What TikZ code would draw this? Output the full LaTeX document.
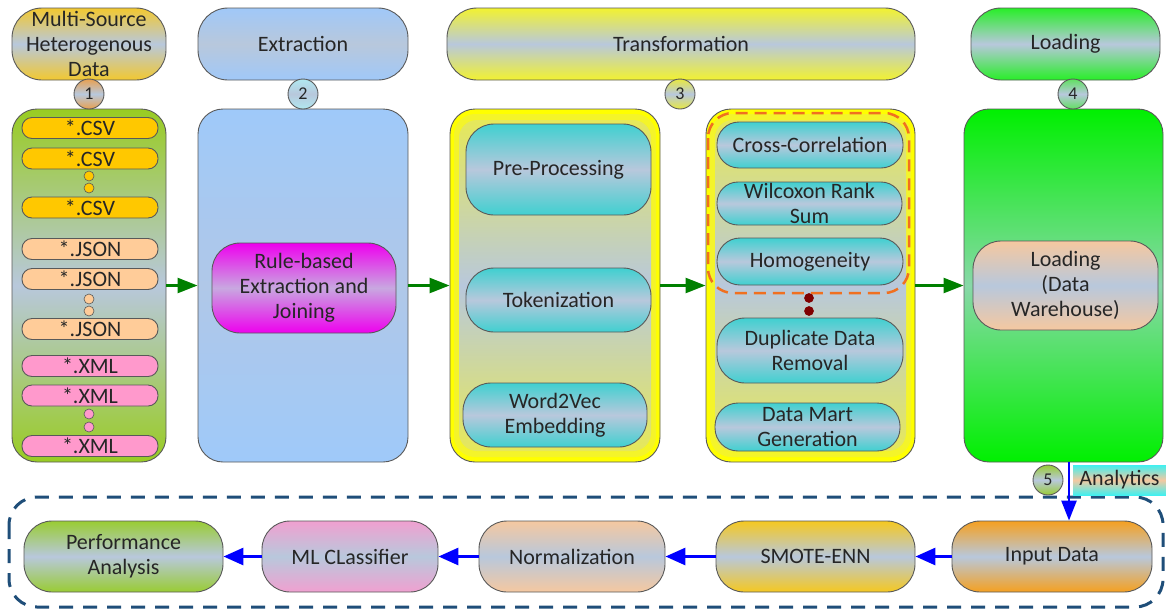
\documentclass[tikz,border=0pt]{standalone}
\usepackage{fontspec}
\setmainfont{Carlito}
\usetikzlibrary{arrows.meta}
\definecolor{txt}{HTML}{262626}
\definecolor{midc}{HTML}{B8C8DC}
\definecolor{csvc}{HTML}{FFC800}
\definecolor{jsonc}{HTML}{FFCC99}
\definecolor{xmlc}{HTML}{FF99CC}
\definecolor{h1c}{HTML}{F2C830}
\definecolor{h2c}{HTML}{A0C8F8}
\definecolor{h3c}{HTML}{F2F230}
\definecolor{h4c}{HTML}{28EE28}
\definecolor{p1c}{HTML}{99CC22}
\definecolor{p2c}{HTML}{9FC9F9}
\definecolor{p2m}{HTML}{B0C8E8}
\definecolor{yel}{HTML}{FFFF00}
\definecolor{yin}{HTML}{E6E85A}
\definecolor{yband}{HTML}{F4F42A}
\definecolor{p5c}{HTML}{00F000}
\definecolor{p5m}{HTML}{88D8A8}
\definecolor{magc}{HTML}{EE00EE}
\definecolor{magm}{HTML}{C8A8E0}
\definecolor{cyc}{HTML}{40D0D0}
\definecolor{peach}{HTML}{F5C8A0}
\definecolor{perfc}{HTML}{99CC33}
\definecolor{mlc}{HTML}{F0A0D0}
\definecolor{smc}{HTML}{F5C820}
\definecolor{inc}{HTML}{F5A020}
\definecolor{c1c}{HTML}{E8A050}
\definecolor{c2c}{HTML}{B0E8F0}
\definecolor{c3c}{HTML}{E8E840}
\definecolor{c4c}{HTML}{60E060}
\definecolor{c5c}{HTML}{99CC33}
\definecolor{dred}{HTML}{800000}
\definecolor{dor}{HTML}{F07020}
\definecolor{frm}{HTML}{1F4E79}
\definecolor{arrg}{HTML}{008000}
\definecolor{cyl}{HTML}{40F0F0}
\tikzset{
 base/.style={draw=black!65, line width=0.9pt, align=center, text=txt, font=\fontsize{22}{25}\selectfont, inner sep=0pt},
 gr/.style={top color=#1, bottom color=#1, middle color=midc},
 sz/.style 2 args={minimum width=#1pt, minimum height=#2pt},
 pill/.style={base, rounded corners=10pt},
 dotn/.style={base, circle, minimum size=10pt, line width=0.6pt},
 numc/.style={base, circle, minimum size=30pt, font=\fontsize{18}{20}\selectfont},
 lbl/.style={align=center, text=txt, font=\fontsize{22}{25}\selectfont, inner sep=0pt},
 inner/.style={rounded corners=18pt, top color=yin, bottom color=yin, middle color=midc, inner sep=0pt},
 band/.style={rounded corners=21pt, fill=yband, inner sep=0pt},
 garrow/.style={draw=arrg, line width=2.5pt, -{Triangle[length=20pt,width=15pt]}},
 barrow/.style={draw=blue, line width=3pt, -{Triangle[length=20pt,width=17pt]}},
}
\begin{document}
\begin{tikzpicture}[x=1pt,y=-1pt]
\useasboundingbox (0,0) rectangle (1166,611);
% headers
\node[base, rounded corners=30pt, gr=h1c, sz={154}{72}] (h1) at (89,44) {Multi-Source\\Heterogenous\\Data};
\node[base, rounded corners=30pt, gr=h2c, sz={210}{72}] (h2) at (303,44) {Extraction};
\node[base, rounded corners=30pt, gr=h3c, sz={468}{72}] (h3) at (681,44) {Transformation};
\node[base, rounded corners=30pt, gr=h4c, sz={189}{72}] (h4) at (1065.5,44) {Loading};
% panels
\node[base, rounded corners=25pt, top color=p1c, bottom color=p1c, middle color=midc, sz={154}{353}] (p1) at (89,285.5) {};
\node[base, rounded corners=25pt, top color=p2c, bottom color=p2c, middle color=p2m, sz={210}{353}] (p2) at (303,285.5) {};
\node[base, rounded corners=25pt, fill=yel, sz={210}{353}] (p3) at (555,285.5) {};
\node[band, minimum width=202pt, minimum height=343pt] (p3b) at (555,285.5) {};
\node[inner, minimum width=192pt, minimum height=331pt] (p3in) at (555,285.5) {};
\node[base, rounded corners=25pt, fill=yel, sz={209}{353}] (p4) at (810.5,285.5) {};
\node[band, minimum width=201pt, minimum height=343pt] (p4b) at (810.5,285.5) {};
\node[inner, minimum width=191pt, minimum height=331pt] (p4in) at (810.5,285.5) {};
\node[base, rounded corners=25pt, top color=p5c, bottom color=p5c, middle color=p5m, sz={199}{353}] (p5) at (1063.5,285.5) {};
% number circles
\node[numc, gr=c1c] (n1) at (89,94) {1};
\node[numc, gr=c2c] (n2) at (303,94) {2};
\node[numc, gr=c3c] (n3) at (680,94) {3};
\node[numc, gr=c4c] (n4) at (1073,94) {4};
% files
\node[pill, fill=csvc, sz={136}{21}] (csv1) at (90,128) {*.CSV};
\node[pill, fill=csvc, sz={136}{21}] (csv2) at (90,158.5) {*.CSV};
\node[dotn, fill=csvc] (dc1) at (89,176) {};
\node[dotn, fill=csvc] (dc2) at (89,188) {};
\node[pill, fill=csvc, sz={136}{21}] (csv3) at (90,207.5) {*.CSV};
\node[pill, fill=jsonc, sz={136}{21}] (js1) at (90,249) {*.JSON};
\node[pill, fill=jsonc, sz={136}{21}] (js2) at (90,279) {*.JSON};
\node[dotn, fill=jsonc] (dj1) at (89,299) {};
\node[dotn, fill=jsonc] (dj2) at (89,311) {};
\node[pill, fill=jsonc, sz={136}{21}] (js3) at (90,329) {*.JSON};
\node[pill, fill=xmlc, sz={136}{21}] (xm1) at (90,366) {*.XML};
\node[pill, fill=xmlc, sz={136}{21}] (xm2) at (90,395.5) {*.XML};
\node[dotn, fill=xmlc] (dx1) at (89,414) {};
\node[dotn, fill=xmlc] (dx2) at (89,427) {};
\node[pill, fill=xmlc, sz={136}{21}] (xm3) at (90,446) {*.XML};
% extraction
\node[base, rounded corners=28pt, top color=magc, bottom color=magc, middle color=magm, sz={184}{90}] (rule) at (304,288) {Rule-based\\Extraction and\\Joining};
% transformation 1
\node[base, rounded corners=28pt, gr=cyc, sz={185}{91}] (pre) at (558.5,169.5) {Pre-Processing};
\node[base, rounded corners=28pt, gr=cyc, sz={185}{64}] (tok) at (558.5,300) {Tokenization};
\node[base, rounded corners=28pt, gr=cyc, sz={184}{64}] (w2v) at (555,415) {Word2Vec\\Embedding};
% transformation 2
\node[base, rounded corners=22pt, gr=cyc, sz={186}{46}] (cc) at (810,145) {Cross-Correlation};
\node[base, rounded corners=21pt, gr=cyc, sz={185}{43}, label={[lbl]center:{Wilcoxon Rank\\Sum}}] (wil) at (809.5,203.5) {};
\node[base, rounded corners=23pt, gr=cyc, sz={186}{47}] (hom) at (810,261.5) {Homogeneity};
\draw[draw=dor, line width=2.5pt, dash pattern=on 12pt off 7pt, rounded corners=25pt] (708,113) rectangle (909,293);
\node[dotn, fill=dred, minimum size=9pt, draw=dred] (dr1) at (809,298) {};
\node[dotn, fill=dred, minimum size=9pt, draw=dred] (dr2) at (809,311) {};
\node[base, rounded corners=28pt, gr=cyc, sz={186}{65}] (dup) at (810,350.5) {Duplicate Data\\Removal};
\node[base, rounded corners=23pt, gr=cyc, sz={185}{48}, label={[lbl]center:{Data Mart\\Generation}}] (mart) at (807.5,427) {};
% loading
\node[base, rounded corners=28pt, top color=peach, bottom color=peach, middle color=midc, sz={185}{89}] (dw) at (1065.5,285.5) {Loading\\(Data\\Warehouse)};
% green arrows
\draw[garrow] (p1.east) -- (p2.west);
\draw[garrow] (p2.east) -- (p3.west);
\draw[garrow] (p3.east) -- (p4.west);
\draw[garrow] (p4.east) -- (p5.west);
% bottom frame
\draw[draw=frm, line width=3pt, dash pattern=on 14pt off 10pt, rounded corners=28pt] (9,497) rectangle (1163,607);
% bottom row
\node[base, rounded corners=28pt, gr=perfc, sz={199}{71}] (perf) at (123.5,556.5) {Performance\\Analysis};
\node[base, rounded corners=28pt, gr=mlc, sz={176}{71}] (ml) at (350,556.5) {ML CLassifier};
\node[base, rounded corners=28pt, gr=peach, sz={186}{71}] (norm) at (572,556.5) {Normalization};
\node[base, rounded corners=28pt, gr=smc, sz={199}{71}] (smote) at (815.5,556.5) {SMOTE-ENN};
\node[base, rounded corners=28pt, gr=inc, sz={200}{71}] (inp) at (1052,556.5) {Input Data};
\draw[barrow] (inp.west) -- (smote.east);
\draw[barrow] (smote.west) -- (norm.east);
\draw[barrow] (norm.west) -- (ml.east);
\draw[barrow] (ml.west) -- (perf.east);
% analytics
\node[numc, gr=c5c] (n5) at (1048,480) {5};
\node[lbl, top color=cyl, bottom color=cyl, middle color=peach, minimum width=93pt, minimum height=30pt] (anl) at (1119.5,480) {Analytics};
\coordinate (ax) at (1069,0);
\draw[draw=blue, line width=2.5pt, -{Triangle[length=20pt,width=15pt]}] (p5.south -| ax) -- (inp.north -| ax);
\end{tikzpicture}
\end{document}
